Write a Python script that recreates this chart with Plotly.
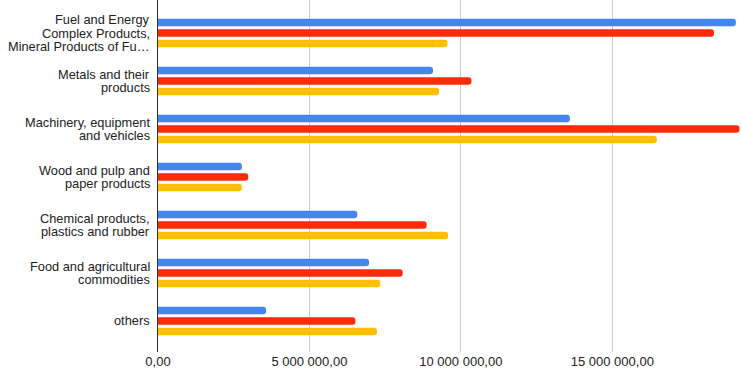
import plotly.graph_objects as go

categories = [
    "Fuel and Energy\nComplex Products,\nMineral Products of Fu…",
    "Metals and their\nproducts",
    "Machinery, equipment\nand vehicles",
    "Wood and pulp and\npaper products",
    "Chemical products,\nplastics and rubber",
    "Food and agricultural\ncommodities",
    "others",
]
series_blue = [19080000, 9080000, 13600000, 2770000, 6580000, 6970000, 3570000]
series_red = [18360000, 10350000, 19200000, 2980000, 8870000, 8080000, 6520000]
series_yellow = [9560000, 9280000, 16470000, 2770000, 9580000, 7340000, 7230000]
tick_values = [0, 5000000, 10000000, 15000000]
tick_labels = ["0,00", "5 000 000,00", "10 000 000,00", "15 000 000,00"]

colors = ["#4285F4", "#FF2A0A", "#FFBF00"]
names = ["Series 1", "Series 2", "Series 3"]
font_family = "Arial, 'Liberation Sans', sans-serif"

fig = go.Figure()
ykeys = list(range(len(categories)))
for vals, col, nm in zip([series_blue, series_red, series_yellow], colors, names):
    fig.add_trace(go.Bar(
        x=vals, y=ykeys, orientation="h", name=nm,
        marker=dict(color=col, line=dict(width=0)),
        hovertemplate="%{x:,.2f}<extra>" + nm + "</extra>",
    ))

annotations = []
line_gap = 13.4
for i, lab in enumerate(categories):
    lines = lab.split("\n")
    n = len(lines)
    for j, ln in enumerate(lines):
        annotations.append(dict(
            text=ln, xref="paper", x=0, xanchor="right", xshift=-6,
            yref="y", y=i, yanchor="middle", yshift=((n - 1) / 2 - j) * line_gap,
            showarrow=False, font=dict(family=font_family, size=12.8, color="#222222"),
        ))

fig.update_layout(
    width=741, height=371,
    margin=dict(l=158, r=0, t=0, b=19),
    barmode="group", bargap=0.344, bargroupgap=0.3,
    barcornerradius=3,
    paper_bgcolor="white", plot_bgcolor="white",
    showlegend=False,
    font=dict(family=font_family, size=13, color="#222222"),
    annotations=annotations,
    xaxis=dict(
        range=[0, 19250000], tickvals=tick_values, ticktext=tick_labels,
        showgrid=True, gridcolor="#cccccc", gridwidth=1, zeroline=False,
        showline=False, ticks="", tickfont=dict(size=13, color="#222222"),
        fixedrange=True,
    ),
    yaxis=dict(
        range=[6.646, -0.6875], showticklabels=False, showgrid=False,
        zeroline=False, showline=True, linecolor="#333333", linewidth=1,
        ticks="", fixedrange=True,
    ),
)

fig.write_html(
    "out.html",
    config={"displayModeBar": False},
    post_script="document.body.style.margin='0';document.body.style.overflow='hidden';",
)
